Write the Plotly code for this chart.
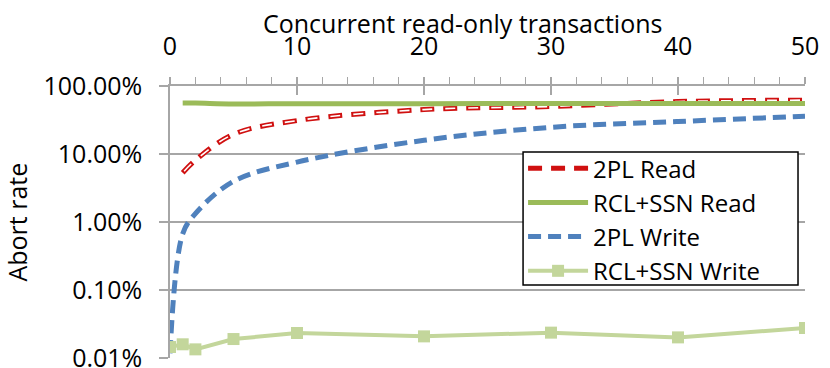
import numpy as np
import plotly.graph_objects as go

# concurrent read-only transactions
x_write = [0, 1, 2, 5, 10, 20, 30, 40, 50]
x_read = [1, 2, 5, 10, 20, 30, 40, 50]

# abort rates in percent
pl_read = [5.3, 8.1, 19.5, 31, 45, 50, 59, 62]
rcl_read = [56, 56, 54.5, 55, 55, 55.5, 55.5, 55.5]
pl_write = [0.0117, 0.67, 1.33, 3.97, 7.6, 15.9, 24.7, 30, 36]
rcl_write = [0.0145, 0.0159, 0.0134, 0.0190, 0.0233, 0.0208, 0.0236, 0.0201, 0.0276]

y_ticks = [0.0001, 0.001, 0.01, 0.1, 1]
y_labels = ["0.01%", "0.10%", "1.00%", "10.00%", "100.00%"]

FONT = "Open Sans"
GRID = "#a6a6a6"

fig = go.Figure()

# 2PL Read: red outlined dashes (red line with a white core on top)
fig.add_trace(go.Scatter(x=x_read, y=np.array(pl_read) / 100, name="2PL Read",
                         mode="lines", line=dict(color="#d01010", width=5, dash="14px,9px", shape="spline")))
fig.add_trace(go.Scatter(x=x_read, y=np.array(pl_read) / 100, showlegend=False, hoverinfo="skip",
                         mode="lines", line=dict(color="white", width=1.6, dash="0px,2px,10px,11px", shape="spline")))
fig.add_trace(go.Scatter(x=x_read, y=np.array(rcl_read) / 100, name="RCL+SSN Read",
                         mode="lines", line=dict(color="#9bbb59", width=5, shape="spline")))
fig.add_trace(go.Scatter(x=x_write, y=np.array(pl_write) / 100, name="2PL Write",
                         mode="lines", line=dict(color="#4f81bd", width=5, dash="13px,7px", shape="spline")))
fig.add_trace(go.Scatter(x=x_write, y=np.array(rcl_write) / 100, name="RCL+SSN Write",
                         mode="lines+markers", line=dict(color="#c3d69b", width=4),
                         marker=dict(symbol="square", size=12, color="#c3d69b")))

# dummy trace so the overlay axis (inner half of the major ticks) gets drawn
fig.add_trace(go.Scatter(x=[0], y=[0.0001], xaxis="x2", mode="markers", showlegend=False,
                         marker=dict(opacity=0), hoverinfo="skip"))

fig.update_layout(
    width=830, height=368,
    margin=dict(l=170, r=25, t=86, b=10, autoexpand=False),
    paper_bgcolor="white", plot_bgcolor="white",
    font=dict(family=FONT, color="black", size=24),
    xaxis=dict(side="top", range=[0, 50], dtick=10, tick0=0, automargin=False,
               showgrid=False, zeroline=False, showline=True, linecolor=GRID, linewidth=1.5,
               ticks="outside", ticklen=7, tickwidth=1.5, tickcolor=GRID,
               tickfont=dict(size=25), ticklabelstandoff=12,
               minor=dict(dtick=2, ticks="outside", ticklen=7, tickwidth=1.2, tickcolor=GRID)),
    xaxis2=dict(overlaying="x", side="top", range=[0, 50], dtick=10, tick0=0, automargin=False,
                showgrid=False, zeroline=False, showline=False, showticklabels=False,
                ticks="inside", ticklen=9, tickwidth=1.5, tickcolor=GRID, anchor="y"),
    yaxis=dict(type="log", range=[-4, 0], tickvals=y_ticks, ticktext=y_labels, automargin=False,
               showgrid=True, gridcolor=GRID, gridwidth=1.5, zeroline=False,
               showline=True, linecolor=GRID, linewidth=1.5,
               ticks="outside", ticklen=9, tickwidth=1.5, tickcolor=GRID,
               tickfont=dict(size=25), ticklabelstandoff=12, ticklabeloverflow="allow"),
    legend=dict(x=0.556, y=0.779, xanchor="left", yanchor="top",
                bgcolor="rgba(0,0,0,0)", borderwidth=0,
                font=dict(size=24), itemwidth=60, tracegroupgap=0),
    showlegend=True,
)

# legend frame (drawn as a box so its padding matches the original)
fig.add_shape(type="rect", xref="paper", yref="paper", x0=0.556, x1=0.989, y0=0.268, y1=0.757,
              line=dict(color="black", width=1.5), fillcolor="white", layer="above")

fig.add_annotation(text="Concurrent read-only transactions", xref="paper", yref="paper",
                   x=0.4606, y=1, yshift=86 - 23, xanchor="center", yanchor="middle",
                   showarrow=False, font=dict(size=25))
fig.add_annotation(text="Abort rate", xref="paper", yref="paper", textangle=-90,
                   x=-0.2417, y=0.5, xanchor="center", yanchor="middle",
                   showarrow=False, font=dict(size=25))

# drop the browser's default 8px body margin so the figure sits at the page corner
fig.write_html("out.html", config={"displayModeBar": False},
               post_script="document.body.style.margin='0';")
